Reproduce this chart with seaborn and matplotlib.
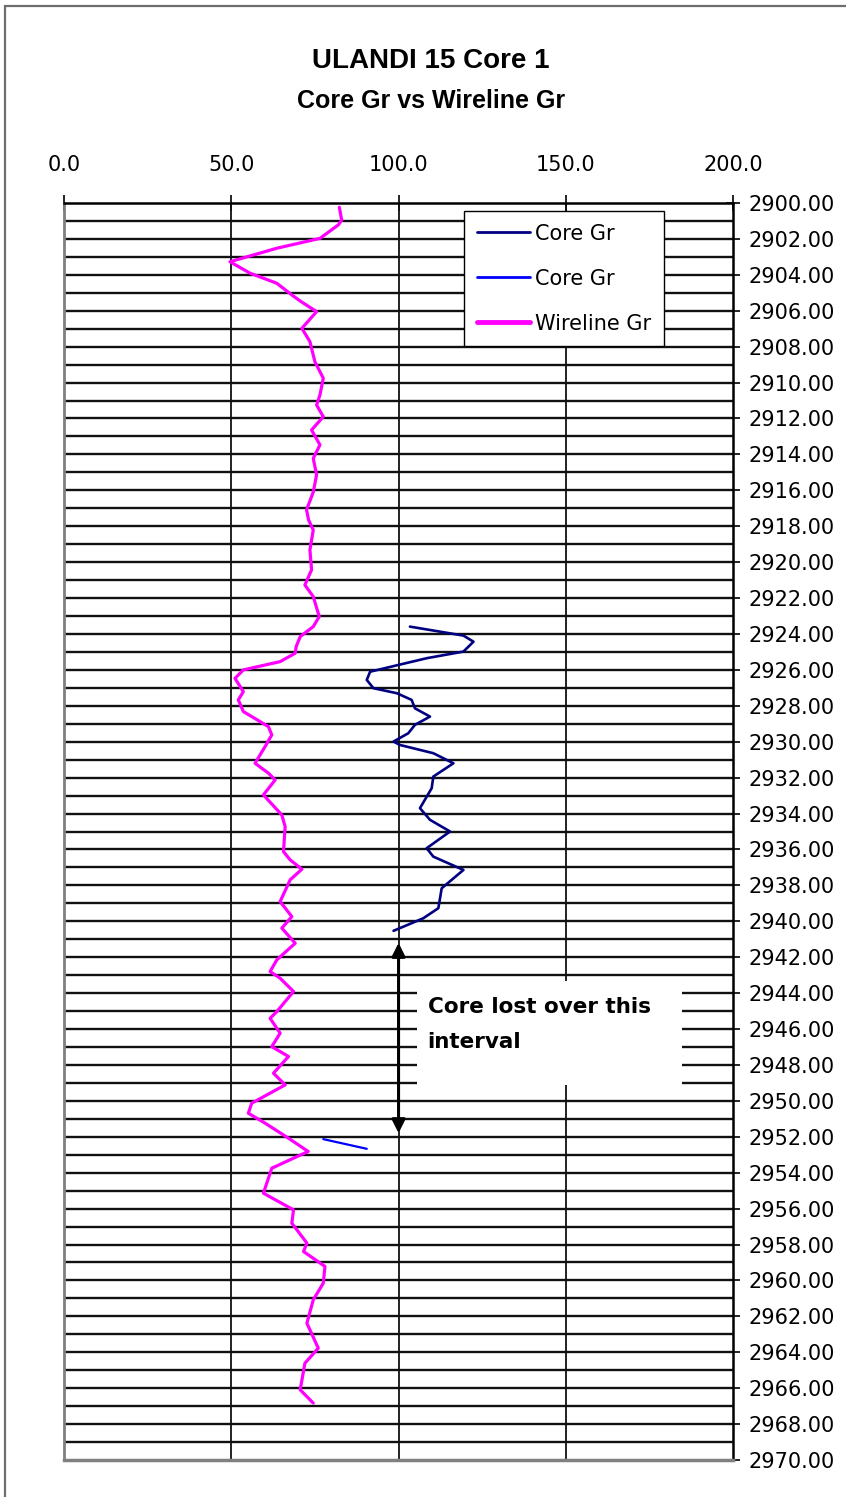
import matplotlib
matplotlib.use('Agg')
import matplotlib.pyplot as plt
import matplotlib.patches as patches
from matplotlib.lines import Line2D
import seaborn as sns
import numpy as np

# wireline gamma ray (magenta)
wire_depth = [2900.24, 2900.95, 2901.22, 2901.97, 2902.52, 2903.27, 2903.91, 2904.47, 2905.12, 2905.46,
              2906.05, 2906.98, 2907.72, 2908.84, 2909.76, 2910.69, 2911.25, 2911.90, 2912.64, 2913.47,
              2914.22, 2915.14, 2916.10, 2917.09, 2917.65, 2918.21, 2919.32, 2920.43, 2921.27, 2921.92,
              2923.03, 2923.59, 2924.15, 2924.70, 2925.07, 2925.54, 2926.00, 2926.47, 2927.21, 2927.67,
              2928.32, 2929.16, 2929.62, 2930.27, 2931.20, 2931.75, 2932.13, 2932.96, 2934.08, 2934.73,
              2936.12, 2936.58, 2937.10, 2937.69, 2938.90, 2939.74, 2940.38, 2941.22, 2942.15, 2942.80,
              2943.17, 2943.91, 2945.03, 2945.40, 2946.23, 2946.98, 2947.53, 2948.46, 2949.11, 2950.13,
              2950.69, 2951.24, 2952.08, 2952.82, 2953.19, 2953.75, 2955.14, 2956.07, 2956.81, 2957.92,
              2958.39, 2959.22, 2960.15, 2961.08, 2962.38, 2963.77, 2964.61, 2966.09, 2966.83]
wire_gr = [82.3, 83.0, 82.0, 76.5, 63.6, 49.6, 55.6, 63.6, 68.1, 70.6,
           75.5, 71.1, 73.5, 75.0, 77.5, 76.5, 75.5, 77.5, 74.0, 76.5,
           74.5, 75.5, 74.5, 72.5, 73.1, 74.5, 73.5, 74.0, 72.0, 74.5,
           76.3, 74.5, 70.6, 69.4, 69.1, 64.6, 53.6, 51.1, 53.6, 52.1,
           53.6, 61.1, 62.1, 60.1, 57.1, 61.1, 63.1, 59.6, 65.1, 66.1,
           65.6, 67.6, 71.1, 67.6, 64.6, 68.1, 65.1, 69.1, 63.6, 61.6,
           64.6, 68.6, 63.6, 61.6, 64.6, 62.1, 67.1, 62.6, 66.1, 56.1,
           55.1, 60.1, 67.1, 73.0, 68.6, 62.1, 59.6, 68.6, 68.1, 72.6,
           71.6, 78.0, 77.5, 74.5, 72.6, 76.0, 72.0, 70.6, 74.5]

# core gamma ray, upper piece (navy)
core_depth = [2923.59, 2924.09, 2924.43, 2924.98, 2925.35, 2926.10, 2926.56, 2927.02, 2927.30, 2927.67,
              2928.14, 2928.60, 2929.06, 2929.53, 2929.99, 2930.18, 2930.64, 2931.20, 2931.94, 2932.59,
              2933.70, 2934.35, 2935.00, 2935.93, 2936.40, 2937.14, 2938.16, 2939.27, 2939.83, 2940.53]
core_gr = [103.4, 119.4, 122.4, 119.4, 108.4, 91.5, 90.5, 92.5, 99.5, 103.9,
           104.9, 109.4, 104.9, 102.9, 98.5, 100.4, 110.4, 116.4, 110.4, 109.9,
           106.4, 109.4, 115.4, 108.4, 110.4, 119.4, 112.9, 111.9, 107.4, 98.5]

# core gamma ray, lower piece (blue)
core2_depth = [2952.13, 2952.67]
core2_gr = [77.5, 90.5]

x_ticks = [0, 50, 100, 150, 200]
depth_ticks = list(range(2900, 2971, 2))

sns.set_style('white')
plt.rcParams['font.family'] = ['DejaVu Sans']
plt.rcParams['text.color'] = 'black'

fig = plt.figure(figsize=(8.46, 14.97), dpi=100)
ax = fig.add_axes([0.0757, 0.0247, 0.7908, 0.8397])

NAVY = '#000080'
BLUE = '#0000FF'
MAGENTA = '#FF00FF'

line_kw = dict(sort=False, estimator=None, ax=ax, zorder=5, solid_joinstyle='round', solid_capstyle='round')
sns.lineplot(x=wire_gr, y=wire_depth, color=MAGENTA, lw=2.3, **line_kw)
sns.lineplot(x=core_gr, y=core_depth, color=NAVY, lw=1.9, **line_kw)
sns.lineplot(x=core2_gr, y=core2_depth, color=BLUE, lw=1.6, **line_kw)

ax.set_xlim(0, 200)
ax.set_ylim(2970, 2900)

# grid: every metre horizontally, every 50 across
for d in range(2901, 2970):
    ax.axhline(d, color='#111111', lw=1.7, zorder=1)
for xv in [50, 100, 150]:
    ax.axvline(xv, color='#111111', lw=1.3, zorder=1)

# axes on top / right
ax.xaxis.tick_top()
ax.yaxis.tick_right()
ax.set_xticks(x_ticks)
ax.set_xticklabels([f'{v:.1f}' for v in x_ticks])
ax.set_yticks(depth_ticks)
ax.set_yticklabels([f'{v:.2f}' for v in depth_ticks])
ax.tick_params(axis='x', direction='inout', length=11, width=1.2, pad=15, labelsize=15,
               colors='black', labelcolor='black')
ax.tick_params(axis='y', direction='inout', length=10, width=1.2, pad=6, labelsize=15,
               colors='black', labelcolor='black')
ax.set_xlabel('')
ax.set_ylabel('')

ax.spines['top'].set_color('black')
ax.spines['top'].set_linewidth(1.8)
ax.spines['right'].set_color('black')
ax.spines['right'].set_linewidth(1.8)
ax.spines['left'].set_color('#808080')
ax.spines['left'].set_linewidth(2.0)
ax.spines['bottom'].set_color('#808080')
ax.spines['bottom'].set_linewidth(2.5)

# annotation: core lost interval
ax.add_patch(patches.Rectangle((105.5, 2943.3), 79.3, 5.8, facecolor='white', edgecolor='none', zorder=3))
ax.text(108.7, 2944.2, 'Core lost over this\ninterval', fontsize=15.5, fontweight='bold',
        va='top', ha='left', linespacing=1.95, zorder=4, family='DejaVu Sans', color='black')
ax.annotate('', xy=(100, 2941.2), xytext=(100, 2951.8),
            arrowprops=dict(arrowstyle='<|-|>', color='black', lw=2.2, mutation_scale=20, shrinkA=0, shrinkB=0),
            zorder=6)

# legend
handles = [Line2D([], [], color=NAVY, lw=2.0),
           Line2D([], [], color=BLUE, lw=2.0),
           Line2D([], [], color=MAGENTA, lw=3.5)]
leg = ax.legend(handles, ['Core Gr', 'Core Gr', 'Wireline Gr'], loc='upper left',
                bbox_to_anchor=(0.598, 0.9935), frameon=True, fancybox=False, framealpha=1,
                edgecolor='black', fontsize=15, handlelength=2.55, handletextpad=0.25,
                labelspacing=1.2, borderpad=0.6, borderaxespad=0)
leg.get_frame().set_linewidth(1.0)
leg.set_zorder(10)
for t in leg.get_texts():
    t.set_color('black')

# titles
fig.text(0.5095, 0.9595, 'ULANDI 15 Core 1', ha='center', va='center', fontsize=20,
         fontweight='bold', family='Liberation Sans', color='black')
fig.text(0.5095, 0.9328, 'Core Gr vs Wireline Gr', ha='center', va='center', fontsize=18,
         fontweight='bold', family='Liberation Sans', color='black')

# outer chart border (left and top edges visible)
fig.patches.append(patches.Rectangle((0.006, -0.05), 1.2, 1.05 - 0.004, transform=fig.transFigure,
                                     fill=False, edgecolor='#6e6e6e', lw=1.6))

fig.savefig('out.png', dpi=100)
